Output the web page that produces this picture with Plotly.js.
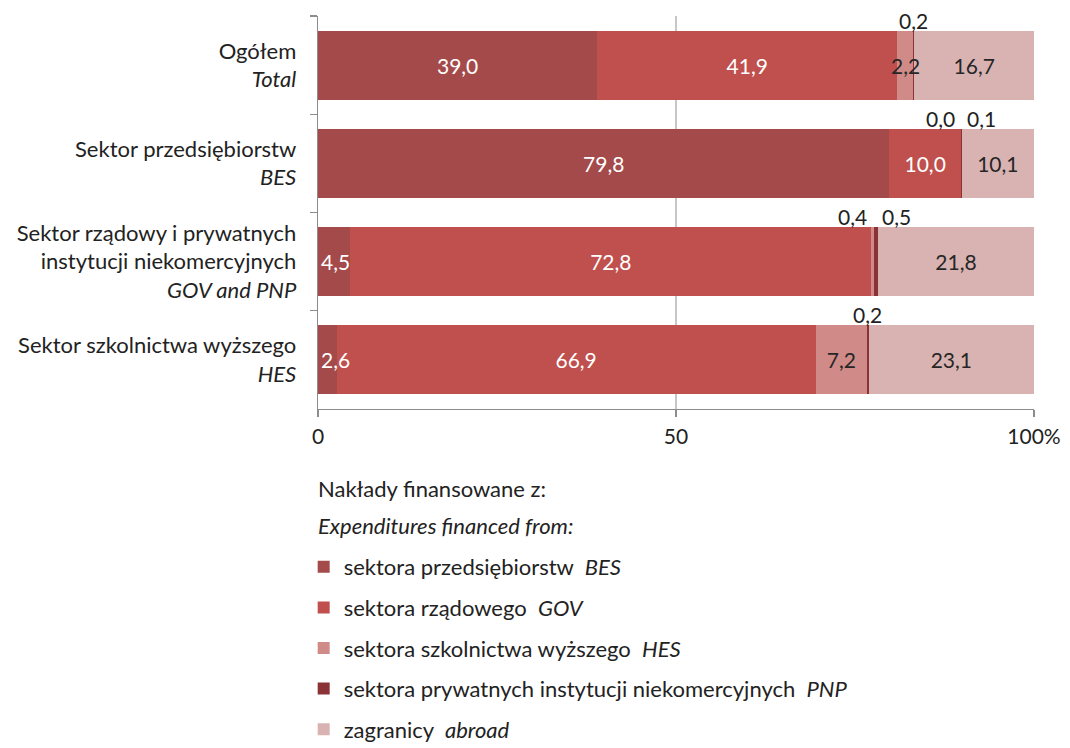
<!DOCTYPE html>
<html>
<head>
<meta charset="utf-8">
<script src="https://cdn.plot.ly/plotly-3.0.1.min.js"></script>
<style>html,body{margin:0;padding:0;background:#fff;}#chart{width:1070px;height:748px;}</style>
</head>
<body>
<div id="chart"></div>
<script>
// ---- data ----
const categoriesPL = ['Ogółem', 'Sektor przedsiębiorstw', 'Sektor rządowy i prywatnych<br>instytucji niekomercyjnych', 'Sektor szkolnictwa wyższego'];
const categoriesEN = ['Total', 'BES', 'GOV and PNP', 'HES'];
const seriesBES    = [39.0, 79.8, 4.5, 2.6];
const seriesGOV    = [41.9, 10.0, 72.8, 66.9];
const seriesHES    = [2.2, 0.0, 0.4, 7.2];
const seriesPNP    = [0.2, 0.1, 0.5, 0.2];
const seriesAbroad = [16.7, 10.1, 21.8, 23.1];
const seriesNamesPL = ['sektora przedsiębiorstw', 'sektora rządowego', 'sektora szkolnictwa wyższego', 'sektora prywatnych instytucji niekomercyjnych', 'zagranicy'];
const seriesNamesEN = ['BES', 'GOV', 'HES', 'PNP', 'abroad'];
const xTickVals = [0, 50, 100];
const xTickText = ['0', '50', '100%'];
const legendTitlePL = 'Nakłady finansowane z:';
const legendTitleEN = 'Expenditures financed from:';

// ---- styles ----
const colors = ['#a44a4a', '#c0504d', '#d08b89', '#8b3236', '#d9b3b2'];
const textColors = ['#ffffff', '#ffffff', '#262626', '#262626', '#262626'];
const FONT = 'Lato, "Open Sans", sans-serif';
const DARK = '#222222';
const AXIS = '#8c8c8c';
const TXT = 22;
const NUM = 21;

const seriesList = [seriesBES, seriesGOV, seriesHES, seriesPNP, seriesAbroad];
const yLabels = categoriesPL.map((c, i) => c + '<br><i>' + categoriesEN[i] + '</i>');
const fmt = v => v.toFixed(1).replace('.', ',');

const traces = seriesList.map((s, k) => ({
  type: 'bar',
  orientation: 'h',
  x: s,
  y: yLabels,
  name: seriesNamesPL[k] + '\u00a0 <i>' + seriesNamesEN[k] + '</i>',
  legendgroup: 'g' + k,
  marker: {color: colors[k], line: {width: 0}},
  text: s.map(v => v >= 5 ? fmt(v) : ''),
  texttemplate: '%{text}',
  textposition: 'inside',
  insidetextanchor: 'middle',
  textangle: 0,
  constraintext: 'none',
  insidetextfont: {family: FONT, size: NUM, color: textColors[k]},
  hoverinfo: 'skip'
}));

// labels for narrow segments
const annotations = [];
yLabels.forEach((lab, i) => {
  let cum = 0;
  const small = [];
  seriesList.forEach((s, k) => {
    const v = s[i];
    const start = cum;
    cum += v;
    if (v < 1) {
      small.push({x: start + v / 2, v});
    } else if (v < 5) {
      if (start === 0) {
        annotations.push({x: 0, y: i, xref: 'x', yref: 'y', text: fmt(v), showarrow: false,
          xanchor: 'left', xshift: 1, font: {family: FONT, size: NUM, color: textColors[k]}});
      } else {
        annotations.push({x: start + v / 2, y: i, xref: 'x', yref: 'y', text: fmt(v), showarrow: false,
          xanchor: 'center', font: {family: FONT, size: NUM, color: textColors[k]}});
      }
    }
  });
  const n = small.length;
  small.forEach((sm, j) => {
    annotations.push({x: sm.x, y: i - 0.35, xref: 'x', yref: 'y', text: fmt(sm.v), showarrow: false,
      xanchor: 'center', yanchor: 'bottom', yshift: -4, xshift: (j - (n - 1) / 2) * 40,
      font: {family: FONT, size: NUM, color: DARK}});
  });
});

annotations.push({xref: 'paper', yref: 'paper', x: 0, y: -0.202, xanchor: 'left', yanchor: 'middle', xshift: -2,
  text: legendTitlePL, showarrow: false, font: {family: FONT, size: TXT, color: DARK}});
annotations.push({xref: 'paper', yref: 'paper', x: 0, y: -0.297, xanchor: 'left', yanchor: 'middle', xshift: -2,
  text: '<i>' + legendTitleEN + '</i>', showarrow: false, font: {family: FONT, size: TXT, color: DARK}});

const layout = {
  width: 1070, height: 748,
  margin: {l: 318, r: 36, t: 16, b: 339, pad: 0},
  paper_bgcolor: '#ffffff', plot_bgcolor: '#ffffff',
  font: {family: FONT, size: TXT, color: DARK},
  barmode: 'stack',
  bargap: 0.3,
  separators: ', ',
  showlegend: true,
  xaxis: {
    range: [0, 100], tickmode: 'array', tickvals: xTickVals, ticktext: xTickText,
    showgrid: true, gridcolor: '#c6c6c6', gridwidth: 2, zeroline: false,
    showline: true, linecolor: AXIS, linewidth: 1.3,
    ticks: 'outside', ticklen: 7, tickcolor: AXIS, tickwidth: 1.3,
    tickfont: {family: FONT, size: NUM, color: DARK}, ticklabelstandoff: 1, fixedrange: true
  },
  yaxis: {
    type: 'category', autorange: 'reversed',
    showline: true, linecolor: AXIS, linewidth: 1.3, showgrid: false, zeroline: false,
    ticks: 'outside', tickson: 'boundaries', ticklen: 7, tickcolor: AXIS, tickwidth: 1.3,
    tickfont: {family: FONT, size: TXT, color: DARK}, ticklabelstandoff: 16, fixedrange: true
  },
  legend: {
    orientation: 'v', xref: 'paper', x: -0.02, xanchor: 'left',
    yref: 'container', y: 1 - 546 / 748, yanchor: 'top',
    traceorder: 'grouped', tracegroupgap: 9, bgcolor: 'rgba(0,0,0,0)',
    font: {family: FONT, size: TXT, color: DARK}, itemclick: false, itemdoubleclick: false
  },
  annotations: annotations
};

Plotly.newPlot('chart', traces, layout, {displayModeBar: false, staticPlot: true});
</script>
</body>
</html>
